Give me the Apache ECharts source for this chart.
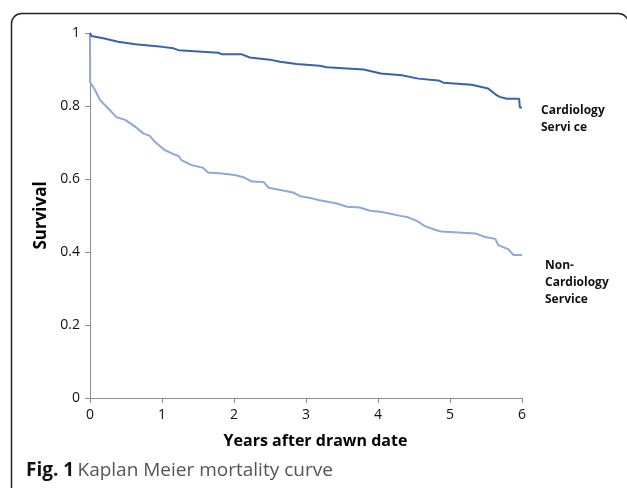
<!DOCTYPE html>
<html>
<head>
<meta charset="utf-8">
<script src="https://cdn.jsdelivr.net/npm/echarts@6/dist/echarts.min.js"></script>
<style>
  html, body { margin: 0; padding: 0; background: #fff; }
  #chart { width: 627px; height: 488px; }
</style>
</head>
<body>
<div id="chart"></div>
<script>
// Years after drawn date
const cardioYears = [0, 0.02, 0.2, 0.39, 0.63, 1.0, 1.16, 1.23, 1.78, 1.83, 2.1, 2.22, 2.5, 2.64, 2.87, 3.19, 3.29, 3.8, 4.04, 4.33, 4.56, 4.84, 4.91, 5.3, 5.53, 5.63, 5.69, 5.79, 5.96, 5.97, 6.0];
const cardioSurvival = [1.0, 0.992, 0.985, 0.976, 0.969, 0.962, 0.958, 0.953, 0.946, 0.942, 0.942, 0.933, 0.927, 0.921, 0.915, 0.910, 0.906, 0.900, 0.889, 0.884, 0.875, 0.870, 0.864, 0.858, 0.848, 0.832, 0.825, 0.820, 0.820, 0.796, 0.796];

const nonCardioYears = [0, 0.001, 0.014, 0.07, 0.14, 0.25, 0.37, 0.49, 0.63, 0.74, 0.83, 0.90, 1.04, 1.16, 1.23, 1.27, 1.41, 1.57, 1.64, 1.83, 2.01, 2.13, 2.25, 2.41, 2.48, 2.59, 2.82, 2.92, 3.06, 3.19, 3.43, 3.57, 3.75, 3.89, 4.03, 4.14, 4.31, 4.42, 4.56, 4.65, 4.79, 4.88, 5.35, 5.49, 5.63, 5.67, 5.81, 5.88, 6.0];
const nonCardioSurvival = [1.0, 0.865, 0.862, 0.844, 0.816, 0.794, 0.769, 0.762, 0.743, 0.725, 0.718, 0.702, 0.679, 0.668, 0.663, 0.652, 0.638, 0.631, 0.618, 0.615, 0.611, 0.605, 0.593, 0.592, 0.576, 0.572, 0.563, 0.553, 0.548, 0.542, 0.533, 0.524, 0.522, 0.513, 0.510, 0.506, 0.499, 0.495, 0.483, 0.471, 0.461, 0.456, 0.451, 0.441, 0.436, 0.419, 0.408, 0.392, 0.392];

const seriesNames = ['Cardiology\nServi ce', 'Non-\nCardiology\nService'];
const xTicks = [0, 1, 2, 3, 4, 5, 6];
const yTicks = [0, 0.2, 0.4, 0.6, 0.8, 1];

const zip = (xs, ys) => xs.map((x, i) => [x, ys[i]]);
const FONT = '"Open Sans", "Noto Sans", sans-serif';

const chart = echarts.init(document.getElementById('chart'), null, { renderer: 'canvas' });

const axisLine = { show: true, lineStyle: { color: '#8c8c8c', width: 1 } };

chart.setOption({
  animation: false,
  backgroundColor: '#fff',
  grid: { left: 90, right: 105, top: 33, bottom: 90, containLabel: false },
  xAxis: {
    type: 'value',
    min: xTicks[0], max: xTicks[xTicks.length - 1], interval: 1,
    name: 'Years after drawn date',
    nameLocation: 'middle',
    nameGap: 35,
    nameTextStyle: { fontFamily: FONT, fontWeight: 'bold', fontSize: 16, color: '#000', padding: [0, 0, 0, 19] },
    axisLine: axisLine,
    axisTick: { show: true, length: 5, lineStyle: { color: '#8c8c8c' } },
    axisLabel: { fontFamily: FONT, fontSize: 14, color: '#111', margin: 10 },
    splitLine: { show: false }
  },
  yAxis: {
    type: 'value',
    min: yTicks[0], max: yTicks[yTicks.length - 1], interval: 0.2,
    name: 'Survival',
    nameLocation: 'middle',
    nameGap: 40,
    nameTextStyle: { fontFamily: FONT, fontWeight: 'bold', fontSize: 17, color: '#000' },
    axisLine: axisLine,
    axisTick: { show: true, length: 5, lineStyle: { color: '#8c8c8c' } },
    axisLabel: { fontFamily: FONT, fontSize: 14, color: '#111', margin: 10,
      formatter: v => String(Math.round(v * 10) / 10) },
    splitLine: { show: false }
  },
  series: [
    {
      name: seriesNames[0], type: 'line', showSymbol: false, symbol: 'none',
      data: zip(cardioYears, cardioSurvival),
      lineStyle: { color: '#3a60b2', width: 2 },
      endLabel: { show: true, formatter: seriesNames[0], fontFamily: FONT, fontWeight: 'bold',
        fontSize: 12, color: '#111', lineHeight: 17, offset: [11, 12], align: 'left' },
      z: 3
    },
    {
      name: seriesNames[1], type: 'line', showSymbol: false, symbol: 'none',
      data: zip(nonCardioYears, nonCardioSurvival),
      lineStyle: { color: '#8ea8dc', width: 2 },
      endLabel: { show: true, formatter: seriesNames[1], fontFamily: FONT, fontWeight: 'bold',
        fontSize: 12, color: '#111', lineHeight: 17, offset: [15, 28], align: 'left' },
      z: 2
    }
  ],
  graphic: [
    {
      type: 'rect', left: 9, top: 11, silent: true,
      shape: { x: 0, y: 0, width: 617, height: 520, r: 10 },
      style: { fill: 'none', stroke: '#222', lineWidth: 1.5 }
    },
    {
      type: 'text', left: 26, top: 461,
      style: {
        text: '{b|Fig. 1} {n|Kaplan Meier mortality curve}',
        rich: {
          b: { fontFamily: FONT, fontWeight: 'bold', fontSize: 19, fill: '#111' },
          n: { fontFamily: FONT, fontSize: 19, fill: '#555' }
        }
      }
    }
  ]
});
</script>
</body>
</html>
